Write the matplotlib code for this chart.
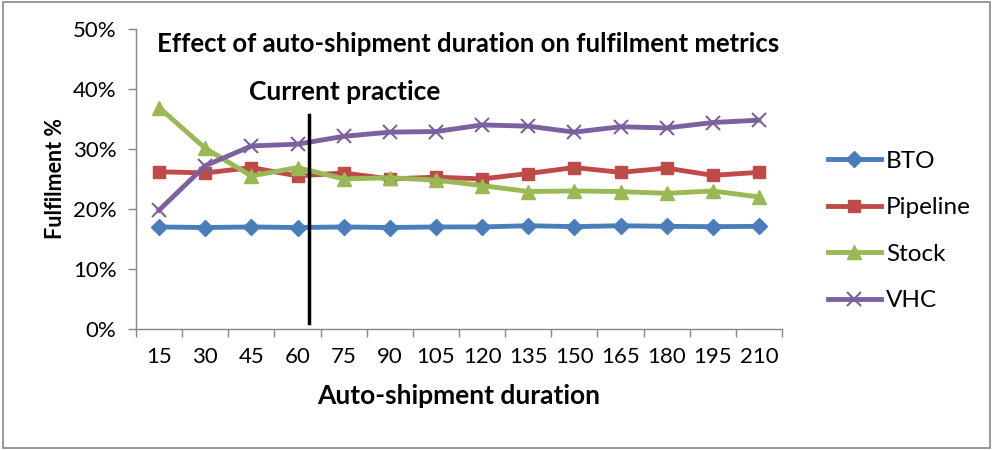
import numpy as np
import matplotlib
matplotlib.use("Agg")
import matplotlib.pyplot as plt
from matplotlib.patches import Rectangle

plt.rcParams['font.family'] = ['Lato', 'DejaVu Sans']

# Datos
durations = ["15", "30", "45", "60", "75", "90", "105", "120", "135", "150", "165", "180", "195", "210"]
bto = [17.0, 16.9, 17.0, 16.9, 17.0, 16.9, 17.0, 17.0, 17.2, 17.05, 17.2, 17.1, 17.05, 17.1]
pipeline = [26.2, 26.0, 26.9, 25.5, 26.0, 25.0, 25.3, 25.0, 25.9, 26.9, 26.1, 26.8, 25.6, 26.1]
stock = [36.9, 30.1, 25.5, 26.9, 25.0, 25.2, 24.8, 23.9, 22.9, 23.0, 22.9, 22.6, 23.0, 22.0]
vhc = [19.8, 27.2, 30.5, 30.8, 32.1, 32.8, 32.9, 34.0, 33.8, 32.8, 33.7, 33.5, 34.4, 34.8]

series = [("BTO", bto, "#4A7EBB", "D", 8),
          ("Pipeline", pipeline, "#BE4B48", "s", 8),
          ("Stock", stock, "#98B954", "^", 10),
          ("VHC", vhc, "#7D60A0", "x", 10)]

fig = plt.figure(figsize=(9.93, 4.5), dpi=100)
ax = fig.add_axes([0.137, 0.269, 0.6505, 0.6667])

x = np.arange(len(durations))
for nombre, vals, color, marker, ms in series:
    vals = np.array(vals) / 100.0
    if marker == "x":
        ax.plot(x, vals, color=color, lw=3.5, marker=marker, ms=ms, mew=1.5, label=nombre)
    else:
        ax.plot(x, vals, color=color, lw=3.5, marker=marker, ms=ms, label=nombre)

# Linea de practica actual
ax.plot([3.25, 3.25], [0.01, 0.357], color="black", lw=2.5)
ax.text(4.03, 0.395, "Current practice", ha="center", va="center", fontsize=19, fontweight="bold")
ax.text(6.7, 0.475, "Effect of auto-shipment duration on fulfilment metrics",
        ha="center", va="center", fontsize=18.5, fontweight="bold")

ax.set_xlim(-0.5, len(durations) - 0.5)
ax.set_ylim(0, 0.5)
ax.set_yticks(np.arange(0, 0.51, 0.1))
ax.set_yticklabels([f"{int(round(v*100))}%" for v in np.arange(0, 0.51, 0.1)])
ax.set_xticks(x)
ax.set_xticklabels(durations)
ax.set_xticks(np.arange(-0.5, len(durations), 1.0), minor=True)
ax.tick_params(axis="x", which="major", length=0, labelsize=16, pad=13)
ax.tick_params(axis="x", which="minor", length=6, color="#868686", width=1)
ax.tick_params(axis="y", length=6, color="#868686", width=1, labelsize=16, pad=8)

for s in ["top", "right"]:
    ax.spines[s].set_visible(False)
for s in ["left", "bottom"]:
    ax.spines[s].set_color("#868686")
    ax.spines[s].set_linewidth(1)

ax.set_xlabel("Auto-shipment duration", fontsize=19, fontweight="bold", labelpad=12)
ax.set_ylabel("Fulfilment %", fontsize=15.5, fontweight="bold", labelpad=5)

ax.legend(loc="center left", bbox_to_anchor=(1.037, 0.327), frameon=False, fontsize=17.5,
          handlelength=2.2, labelspacing=1.05, handletextpad=0.2)

# Marco gris del grafico
fig.patches.append(Rectangle((0.003, 0.004), 0.994, 0.992, transform=fig.transFigure,
                             fill=False, edgecolor="#868686", lw=1.2))

fig.savefig("out.png", dpi=100)
